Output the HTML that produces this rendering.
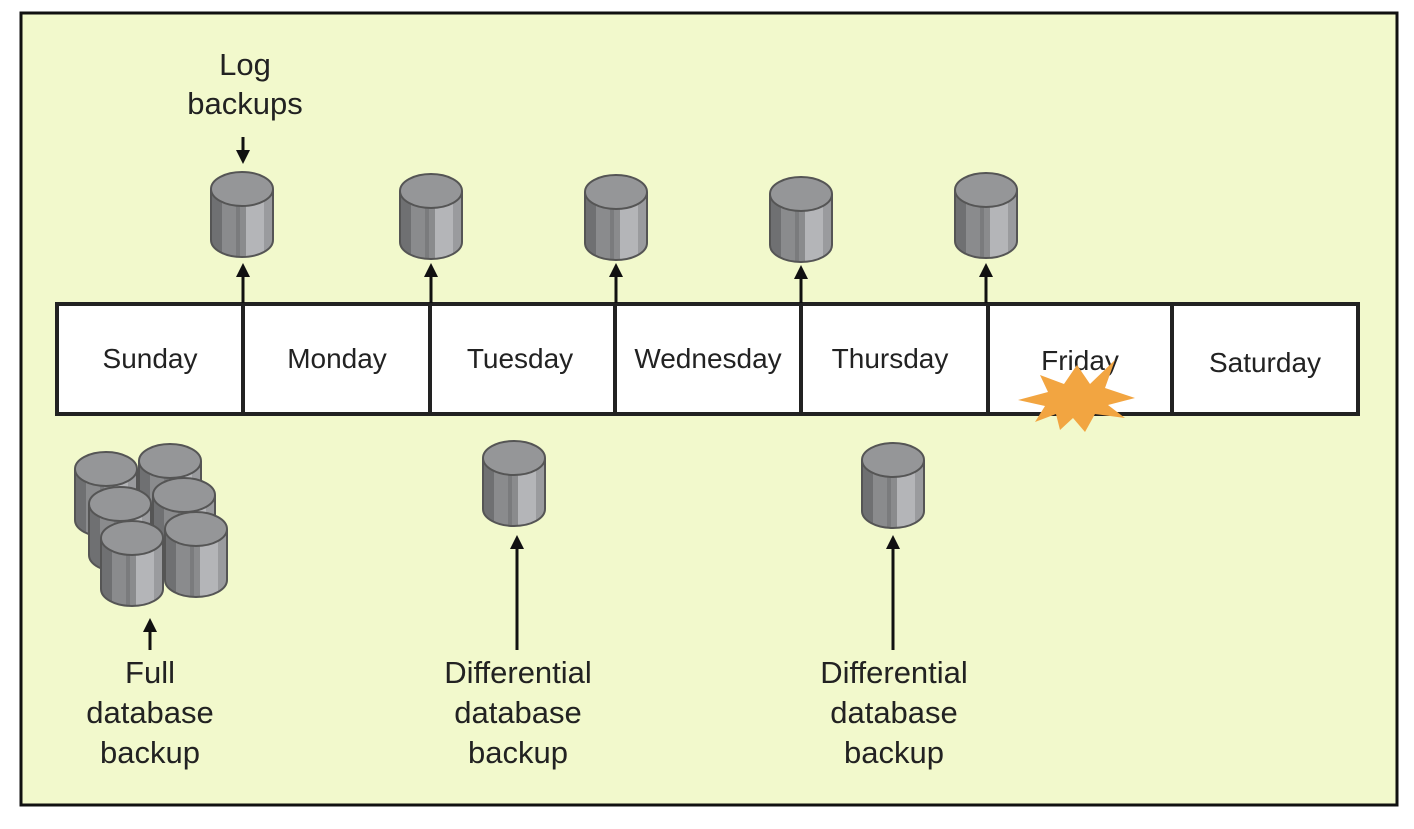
<!DOCTYPE html>
<html><head><style>body{margin:0;background:#fff}svg{display:block}text{font-family:"Liberation Sans",sans-serif;fill:#222}</style></head><body>
<svg width="1414" height="829" viewBox="0 0 1414 829" xmlns="http://www.w3.org/2000/svg">
<defs>
<g id="cyl">
<path d="M-31,0 V51 A31,17 0 0 0 31,51 V0 Z" fill="#8a8b8d"/>
<path d="M-31,4 V51 A31,17 0 0 0 -20,63 V12 Z" fill="#6f7072"/>
<path d="M-6,16 V67 L-2,68 V17 Z" fill="#7a7b7d"/>
<path d="M4,17 V68 A31,17 0 0 0 31,51 V0 Z" fill="#b4b5b8"/>
<path d="M22,12 V63 A31,17 0 0 0 31,51 V0 Z" fill="#9a9b9e"/>
<path d="M-31,0 V51 A31,17 0 0 0 31,51 V0" fill="none" stroke="#555" stroke-width="2"/>
<ellipse cx="0" cy="0" rx="31" ry="17" fill="#959698" stroke="#555" stroke-width="2"/>
</g>
<marker id="ah" markerWidth="14" markerHeight="14" refX="7" refY="7" orient="auto" markerUnits="userSpaceOnUse" viewBox="0 0 14 14"><path d="M0,0 L14,7 L0,14 Z" fill="#111"/></marker>
</defs>
<rect x="21" y="13" width="1376" height="792" fill="#f2f9cc" stroke="#111" stroke-width="3"/>
<rect x="57" y="304" width="1301" height="110" fill="#fff" stroke="#222" stroke-width="4"/>
<g stroke="#222" stroke-width="4">
<line x1="243" y1="304" x2="243" y2="414"/><line x1="430" y1="304" x2="430" y2="414"/><line x1="615" y1="304" x2="615" y2="414"/><line x1="801" y1="304" x2="801" y2="414"/><line x1="988" y1="304" x2="988" y2="414"/><line x1="1172" y1="304" x2="1172" y2="414"/>
</g>
<g font-size="28" text-anchor="middle">
<text x="150" y="368">Sunday</text><text x="337" y="368">Monday</text><text x="520" y="368">Tuesday</text><text x="708" y="368">Wednesday</text><text x="890" y="368">Thursday</text><text x="1080" y="370">Friday</text><text x="1265" y="372">Saturday</text>
</g>
<polygon fill="#f2a541" points="1077,365 1090,384 1115,360 1105,388 1135,398 1108,405 1125,418 1095,414 1085,432 1073,418 1060,430 1056,414 1035,422 1045,406 1018,400 1048,392 1040,375 1064,384"/>
<g stroke="#111" stroke-width="3" marker-end="url(#ah)">
<line x1="243" y1="303" x2="243" y2="270"/><line x1="431" y1="303" x2="431" y2="270"/><line x1="616" y1="303" x2="616" y2="270"/><line x1="801" y1="303" x2="801" y2="272"/><line x1="986" y1="303" x2="986" y2="270"/>
<line x1="243" y1="137" x2="243" y2="157"/>
<line x1="517" y1="650" x2="517" y2="542"/><line x1="893" y1="650" x2="893" y2="542"/><line x1="150" y1="650" x2="150" y2="625"/>
</g>
<use href="#cyl" x="242" y="189"/><use href="#cyl" x="431" y="191"/><use href="#cyl" x="616" y="192"/><use href="#cyl" x="801" y="194"/><use href="#cyl" x="986" y="190"/>
<use href="#cyl" x="514" y="458"/><use href="#cyl" x="893" y="460"/>
<use href="#cyl" x="106" y="469"/><use href="#cyl" x="170" y="461"/><use href="#cyl" x="120" y="504"/><use href="#cyl" x="184" y="495"/><use href="#cyl" x="132" y="538"/><use href="#cyl" x="196" y="529"/>
<g font-size="31" text-anchor="middle">
<text x="245" y="75">Log</text><text x="245" y="114">backups</text>
<text x="150" y="683">Full</text><text x="150" y="723">database</text><text x="150" y="763">backup</text>
<text x="518" y="683">Differential</text><text x="518" y="723">database</text><text x="518" y="763">backup</text>
<text x="894" y="683">Differential</text><text x="894" y="723">database</text><text x="894" y="763">backup</text>
</g>
</svg>
</body></html>
